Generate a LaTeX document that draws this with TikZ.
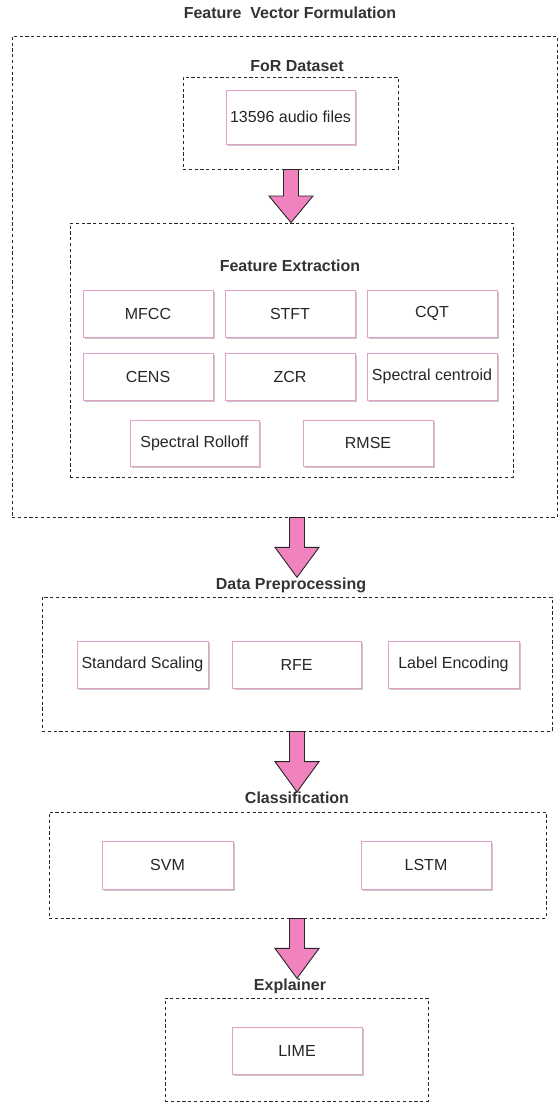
\documentclass[tikz,border=0pt]{standalone}
\usepackage{fontspec}
\setmainfont{Liberation Sans}
\usetikzlibrary{calc,shadows}
\definecolor{pinkline}{RGB}{228,160,198}
\definecolor{arrowfill}{RGB}{240,130,190}
\definecolor{dashline}{RGB}{40,40,40}
\tikzset{
  dbox/.style={draw=dashline, line width=0.9pt, dash pattern=on 3.2pt off 2.6pt, inner sep=0pt},
  pbox/.style={draw=pinkline, line width=1pt, fill=white, inner sep=0pt, minimum height=47pt, minimum width=130pt,
    drop shadow={shadow xshift=2.2pt, shadow yshift=-2.2pt, fill=black!22, opacity=1},
    font=\fontsize{16}{19}\selectfont, text=black!85},
  lbl/.style={font=\fontsize{16}{19}\selectfont\bfseries, text=black!80, inner sep=0pt},
  barrow/.style={fill=arrowfill, draw=black!85, line width=0.9pt, line join=miter}
}
\newcommand\blockarrow[2]{%
  \path (#1) coordinate (bas) (#2) coordinate (bae);
  \coordinate (bam) at ($(bas)!0.5!(bae)$);
  \draw[barrow] ($(bas)+(-7.5,0)$) -- ($(bas)+(7.5,0)$) -- ($(bam)+(7.5,0)$) -- ($(bam)+(22,0)$) -- (bae)
     -- ($(bam)+(-22,0)$) -- ($(bam)+(-7.5,0)$) -- cycle;}
\begin{document}
\begin{tikzpicture}[x=1pt,y=-1pt]
\useasboundingbox (0,0) rectangle (560,1104);
% title and outer box
\node[lbl] (title) at (290,13) {Feature\ \ Vector Formulation};
\node[dbox, minimum width=545pt, minimum height=481pt] (outer) at (284.5,276.5) {};
% dataset
\node[lbl] (forlbl) at (297,66) {FoR Dataset};
\node[dbox, minimum width=215pt, minimum height=92pt] (dataset) at (290.5,123) {};
\node[pbox, minimum width=129pt, minimum height=54pt] (files) at (290.5,117) {13596 audio files};
% feature extraction
\node[dbox, minimum width=443pt, minimum height=254pt] (fe) at (291.5,350) {};
\node[lbl] (felbl) at (290,266) {Feature Extraction};
\node[pbox] (mfcc) at (148,313.5) {MFCC};
\node[pbox] (stft) at (290,313.5) {STFT};
\node[pbox] (cqt) at (432,313.5) {CQT};
\node[pbox] (cens) at (148,376.5) {CENS};
\node[pbox] (zcr) at (290,376.5) {ZCR};
\node[pbox] (cent) at (432,376.5) {Spectral centroid};
\node[pbox, minimum width=129pt, minimum height=46pt] (roll) at (194.5,443) {Spectral Rolloff};
\node[pbox, minimum height=46pt] (rmse) at (368,443) {RMSE};
% data preprocessing
\node[lbl] (dplbl) at (291,585) {Data Preprocessing};
\node[dbox, minimum width=510pt, minimum height=134pt] (dp) at (297,664) {};
\node[pbox, minimum width=131pt] (ss) at (142.5,664.5) {Standard Scaling};
\node[pbox, minimum width=129pt] (rfe) at (296.5,664.5) {RFE};
\node[pbox, minimum width=131pt] (le) at (453.5,664.5) {Label Encoding};
% classification
\node[lbl] (clslbl) at (297,798) {Classification};
\node[dbox, minimum width=497pt, minimum height=106pt] (cls) at (297.5,865) {};
\node[pbox, minimum width=131pt, minimum height=48pt] (svm) at (167.5,865) {SVM};
\node[pbox, minimum height=48pt] (lstm) at (426,865) {LSTM};
% explainer
\node[lbl] (exlbl) at (290,986) {Explainer};
\node[dbox, minimum width=263pt, minimum height=103pt] (ex) at (296.5,1049.5) {};
\node[pbox] (lime) at (297,1050.5) {LIME};
% block arrows
\coordinate (xa) at (291,0);
\coordinate (xb) at (297,0);
\blockarrow{dataset.south -| xa}{fe.north -| xa}
\blockarrow{outer.south -| xb}{dplbl.north -| xb}
\blockarrow{dp.south -| xb}{clslbl.north -| xb}
\blockarrow{cls.south -| xb}{exlbl.north -| xb}
\end{tikzpicture}
\end{document}
